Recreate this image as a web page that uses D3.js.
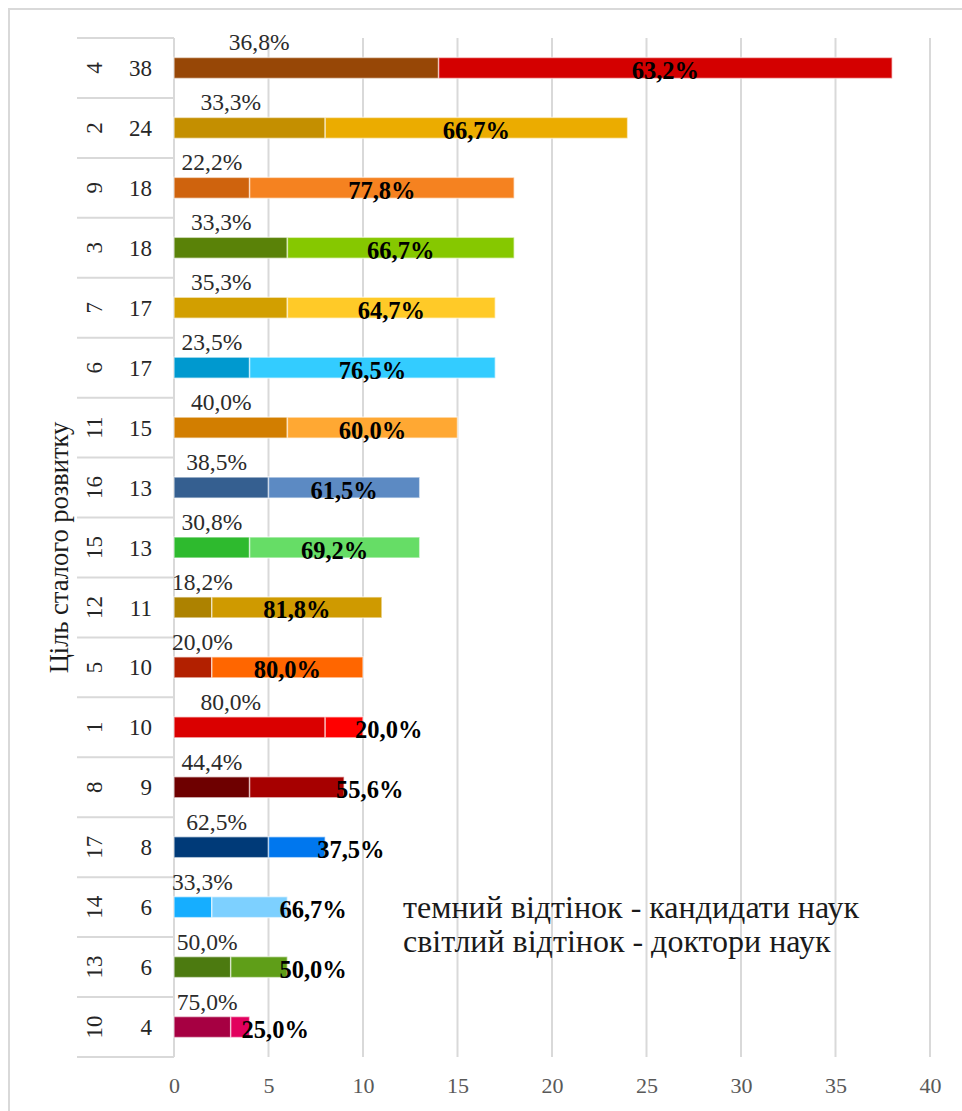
<!DOCTYPE html>
<html>
<head>
<meta charset="utf-8">
<script src="https://cdn.jsdelivr.net/npm/d3@7"></script>
<style>
  html, body { margin: 0; padding: 0; background: #fff; }
  svg { display: block; }
</style>
</head>
<body>
<svg id="chart" width="962" height="1111"></svg>
<script>
// Sustainable development goals, ordered by number of researchers
const goals = ["4", "2", "9", "3", "7", "6", "11", "16", "15", "12", "5", "1", "8", "17", "14", "13", "10"];
// Candidates of sciences (dark shade)
const candidates = [14, 8, 4, 6, 6, 4, 6, 5, 4, 2, 2, 8, 4, 5, 2, 3, 3];
// Doctors of sciences (light shade)
const doctors = [24, 16, 14, 12, 11, 13, 9, 8, 9, 9, 8, 2, 5, 3, 4, 3, 1];
// X axis ticks
const xTicks = [0, 5, 10, 15, 20, 25, 30, 35, 40];

// Goal colour pairs: dark shade and light shade
const darkColors = ["#974706", "#C48F00", "#CF630D", "#5A8208", "#D29F00", "#0099CF", "#D27E00", "#355F90",
  "#2EBA2E", "#AD8200", "#B22000", "#DA0000", "#6E0000", "#003A78", "#16AEFF", "#4C7A10", "#A60042"];
const lightColors = ["#D40000", "#EBAC00", "#F58220", "#86C800", "#FFCA28", "#33CCFF", "#FFA833", "#5C8AC3",
  "#66DD66", "#CF9A00", "#FF6600", "#FF0000", "#A60000", "#0077EE", "#7DD0FF", "#5F9E18", "#E2005E"];

const legendLines = ["темний відтінок - кандидати наук", "світлий відтінок - доктори наук"];
const axisTitle = "Ціль сталого розвитку";

const serif = "'Liberation Serif', 'Times New Roman', serif";
const svg = d3.select("#chart");

const rows = goals.map((g, i) => ({
  goal: g,
  dark: candidates[i],
  light: doctors[i],
  total: candidates[i] + doctors[i],
  darkColor: darkColors[i],
  lightColor: lightColors[i]
}));

const x = d3.scaleLinear().domain([0, 40]).range([174, 930]);
const y = d3.scaleBand().domain(goals).range([38, 1057]).paddingInner(0.65).paddingOuter(0.325);
const step = y.step();
const yTop = y.range()[0], yBottom = y.range()[1];

const pct = v => d3.format(".1f")(v * 100).replace(".", ",") + "%";

// Outer frame
svg.append("rect")
  .attr("x", 9).attr("y", 9).attr("width", 1000).attr("height", 1200)
  .attr("fill", "#fff").attr("stroke", "#d9d9d9").attr("stroke-width", 2);

// Vertical gridlines
svg.append("g").selectAll("line")
  .data(xTicks.filter(t => t > 0))
  .join("line")
  .attr("x1", d => x(d)).attr("x2", d => x(d))
  .attr("y1", yTop).attr("y2", yBottom)
  .attr("stroke", "#d9d9d9").attr("stroke-width", 2);

// X axis tick labels
const xAxis = d3.axisBottom(x).tickValues(xTicks).tickSize(0).tickPadding(0);
const gx = svg.append("g").attr("transform", `translate(0,${yBottom + 20})`).call(xAxis);
gx.attr("font-family", serif).attr("font-size", 22);
gx.select(".domain").remove();
gx.selectAll("text")
  .attr("font-family", serif).attr("font-size", 22).attr("fill", "#595959")
  .attr("dy", "0.72em");

// Category axis: line and row separators
svg.append("line")
  .attr("x1", x(0)).attr("x2", x(0)).attr("y1", yTop).attr("y2", yBottom)
  .attr("stroke", "#d9d9d9").attr("stroke-width", 2);
svg.append("g").selectAll("line")
  .data(d3.range(goals.length + 1))
  .join("line")
  .attr("x1", 77).attr("x2", x(0))
  .attr("y1", i => yTop + i * step).attr("y2", i => yTop + i * step)
  .attr("stroke", "#d9d9d9").attr("stroke-width", 2);

// Category labels: goal number (rotated) and total count
const cat = svg.append("g").selectAll("g").data(rows).join("g")
  .attr("transform", d => `translate(0,${y(d.goal) + y.bandwidth() / 2})`);
cat.append("text")
  .attr("transform", "translate(102,0) rotate(-90)")
  .attr("text-anchor", "middle")
  .attr("font-family", serif).attr("font-size", 23).attr("fill", "#262626")
  .text(d => d.goal);
cat.append("text")
  .attr("x", 152).attr("dy", "0.35em")
  .attr("text-anchor", "end")
  .attr("font-family", serif).attr("font-size", 23).attr("fill", "#262626")
  .text(d => d.total);

// Axis title
svg.append("text")
  .attr("transform", `translate(68,${(yTop + yBottom) / 2}) rotate(-90)`)
  .attr("text-anchor", "middle")
  .attr("font-family", serif).attr("font-size", 26.5).attr("fill", "#1a1a1a")
  .text(axisTitle);

// Stacked bars
const bars = svg.append("g").selectAll("g").data(rows).join("g");
bars.append("rect")
  .attr("x", x(0)).attr("y", d => y(d.goal))
  .attr("width", d => x(d.dark) - x(0)).attr("height", y.bandwidth())
  .attr("fill", d => d.darkColor)
  .attr("stroke", "rgba(255,255,255,0.55)").attr("stroke-width", 1.5);
bars.append("rect")
  .attr("x", d => x(d.dark)).attr("y", d => y(d.goal))
  .attr("width", d => x(d.dark + d.light) - x(d.dark)).attr("height", y.bandwidth())
  .attr("fill", d => d.lightColor)
  .attr("stroke", "rgba(255,255,255,0.55)").attr("stroke-width", 1.5);

// Candidate share labels above the dark segment, pulled toward the axis
bars.append("text")
  .attr("x", d => ((x(0) + x(d.dark)) / 2 + x(0) + 38) / 2)
  .attr("y", d => y(d.goal) - 7)
  .attr("text-anchor", "middle")
  .attr("font-family", serif).attr("font-size", 23.5).attr("fill", "#2b2b2b")
  .text(d => pct(d.dark / d.total));

// Doctor share labels: centred in wide segments, past the end of short ones
bars.append("text")
  .each(function(d) {
    const x0 = x(d.dark), x1 = x(d.dark + d.light);
    const wide = x1 - x0 >= 150;
    d3.select(this)
      .attr("x", wide ? (x0 + x1) / 2 : x1 - 8)
      .attr("text-anchor", wide ? "middle" : "start");
  })
  .attr("y", d => y(d.goal) + y.bandwidth() / 2 + 11)
  .attr("font-family", serif).attr("font-size", 24.5).attr("font-weight", "bold").attr("fill", "#000")
  .text(d => pct(d.light / d.total));

// Shade legend
svg.append("g").selectAll("text").data(legendLines).join("text")
  .attr("x", 403).attr("y", (d, i) => 918 + i * 34)
  .attr("font-family", serif).attr("font-size", 32).attr("fill", "#1a1a1a")
  .text(d => d);
</script>
</body>
</html>
